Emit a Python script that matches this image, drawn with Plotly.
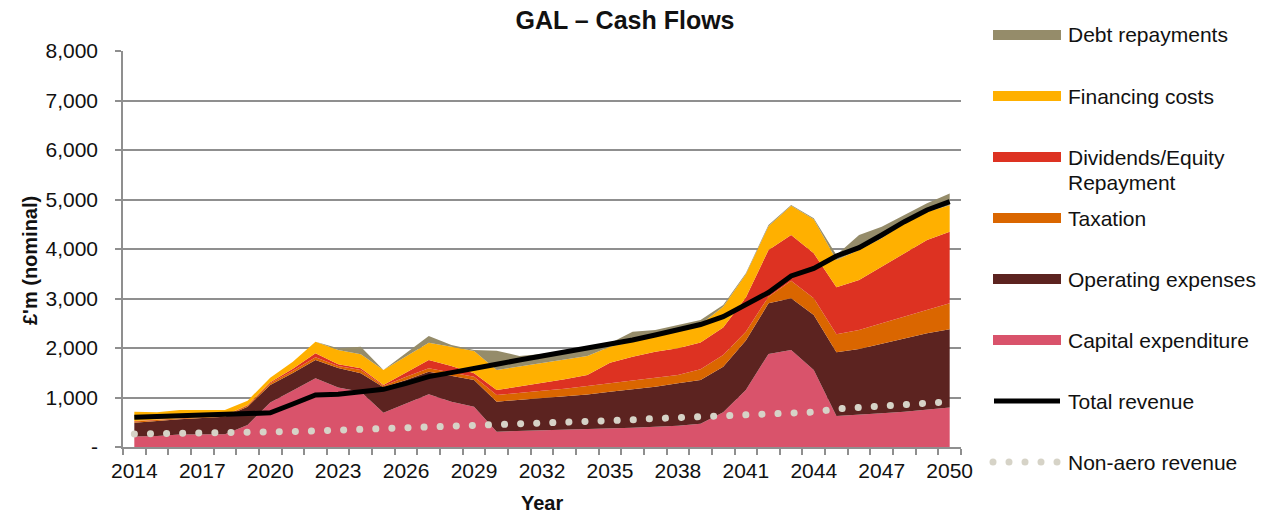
import plotly.graph_objects as go

# data (GBP m, nominal)
years = list(range(2014, 2051))

capex = [210, 222, 255, 263, 260, 444, 900, 1140, 1390, 1200, 1118, 694, 882, 1064, 916, 815,
         310, 323, 330, 343, 357, 370, 390, 411, 431, 470, 700, 1152, 1879, 1960, 1556, 626,
         646, 680, 714, 761, 800]
opex = [281, 310, 304, 323, 353, 371, 353, 355, 368, 396, 370, 511, 471, 458, 525, 538,
        606, 627, 653, 674, 703, 748, 775, 808, 855, 883, 923, 998, 1023, 1043, 1111, 1286,
        1334, 1401, 1481, 1535, 1577]
taxation = [25, 20, 18, 16, 17, 25, 37, 45, 53, 40, 68, 27, 68, 67, 67, 68, 134, 148, 155,
            161, 172, 168, 168, 168, 169, 220, 235, 180, 135, 357, 336, 364, 384, 418, 438,
            486, 525]
dividends = [9, 6, 5, 5, 6, 10, 20, 40, 81, 34, 33, 21, 81, 169, 128, 67, 102, 121, 148, 189,
             223, 418, 492, 539, 538, 537, 557, 690, 943, 923, 909, 950, 1010, 1144, 1279,
             1400, 1448]
financing = [188, 143, 165, 140, 114, 86, 90, 144, 236, 290, 283, 303, 323, 350, 391, 451,
             404, 404, 404, 404, 383, 323, 303, 303, 337, 370, 420, 470, 478, 592, 687, 552,
             606, 572, 607, 572, 535]
debt = [0, 0, 0, 0, 0, 0, 0, 0, 0, 33, 155, 0, 67, 134, 33, 21, 390, 217, 190, 169, 162, 67,
        202, 135, 135, 86, 34, 19, 27, 14, 21, 102, 303, 236, 168, 169, 235]
total_revenue = [600, 612, 633, 646, 667, 680, 690, 869, 1050, 1064, 1105, 1165, 1286, 1421,
                 1502, 1576, 1670, 1758, 1838, 1906, 1993, 2061, 2162, 2263, 2364, 2475, 2633,
                 2869, 3121, 3455, 3609, 3859, 4027, 4283, 4552, 4788, 4956]
non_aero = [263, 266, 270, 276, 282, 290, 300, 312, 325, 340, 350, 363, 377, 390, 400, 415,
            438, 455, 470, 495, 512, 530, 550, 575, 595, 615, 630, 641, 655, 680, 705, 770,
            798, 825, 852, 893, 915]

x_tickvals = list(range(2014, 2051, 3))
y_tickvals = [0, 1000, 2000, 3000, 4000, 5000, 6000, 7000, 8000]
y_ticktext = ["-", "1,000", "2,000", "3,000", "4,000", "5,000", "6,000", "7,000", "8,000"]

FONT = "Liberation Sans, Arial, sans-serif"
GRID = "#8f8f8f"

# stacked from the bottom up
stack = [
    ("Capital expenditure", capex, "#d9536b"),
    ("Operating expenses", opex, "#5c2320"),
    ("Taxation", taxation, "#da6600"),
    ("Dividends/Equity<br>Repayment", dividends, "#dd3222"),
    ("Financing costs", financing, "#ffb000"),
    ("Debt repayments", debt, "#958c6a"),
]
colors = {name: c for name, _, c in stack}
REV_COLOR = "black"
NONAERO_COLOR = "#d6d3c7"

fig = go.Figure()
for name, vals, col in stack:
    fig.add_trace(go.Scatter(x=years, y=vals, name=name, mode="lines", stackgroup="costs",
                             line=dict(width=0, color=col), fillcolor=col))

fig.add_trace(go.Scatter(x=years, y=total_revenue, name="Total revenue", mode="lines",
                         line=dict(color=REV_COLOR, width=5)))
fig.add_trace(go.Scatter(x=years, y=non_aero, name="Non-aero revenue", mode="lines",
                         line=dict(color=NONAERO_COLOR, width=7, dash="7px,9px")))

# plot area in pixels
W, H = 1271, 516
L, R, T, B = 123, 961, 51, 447


def px(x):
    return (x - L) / (R - L)


def py(y):
    return (B - y) / (B - T)


# manual legend, laid out like the original
legend_rows = [
    ("Debt repayments", 35, "bar"),
    ("Financing costs", 96, "bar"),
    ("Dividends/Equity<br>Repayment", 157, "bar"),
    ("Taxation", 218, "bar"),
    ("Operating expenses", 279, "bar"),
    ("Capital expenditure", 340, "bar"),
    ("Total revenue", 401, "line"),
    ("Non-aero revenue", 462, "dots"),
]
shapes = []
annotations = []
for label, yc, kind in legend_rows:
    if kind == "bar":
        shapes.append(dict(type="line", xref="paper", yref="paper", x0=px(993), x1=px(1061),
                           y0=py(yc), y1=py(yc), line=dict(color=colors[label], width=10)))
    elif kind == "line":
        shapes.append(dict(type="line", xref="paper", yref="paper", x0=px(994), x1=px(1060),
                           y0=py(yc), y1=py(yc), line=dict(color=REV_COLOR, width=5)))
    else:
        for cx in [993, 1009, 1025, 1041, 1057]:
            shapes.append(dict(type="circle", xref="paper", yref="paper",
                               x0=px(cx - 3.5), x1=px(cx + 3.5), y0=py(yc + 3.5), y1=py(yc - 3.5),
                               fillcolor=NONAERO_COLOR, line=dict(width=0)))
    lines = label.split("<br>")
    for k, txt in enumerate(lines):
        annotations.append(dict(text=txt, xref="paper", yref="paper", x=px(1066), y=py(yc + 25 * k),
                                xanchor="left", yanchor="middle", showarrow=False,
                                font=dict(family=FONT, size=21, color="#111111")))

# axis titles
annotations.append(dict(text="<b>£'m (nominal)</b>", xref="paper", yref="paper",
                        x=px(30), y=py(261), xanchor="center", yanchor="middle", textangle=-90,
                        showarrow=False, font=dict(family=FONT, size=20, color="#111111")))
annotations.append(dict(text="<b>Year</b>", xref="paper", yref="paper",
                        x=px(542), y=py(503), xanchor="center", yanchor="middle",
                        showarrow=False, font=dict(family=FONT, size=20, color="#111111")))

boundaries = [y - 0.5 for y in years] + [years[-1] + 0.5]

fig.update_layout(
    width=W, height=H,
    margin=dict(l=L, r=W - R, t=T, b=H - B),
    paper_bgcolor="white", plot_bgcolor="white",
    showlegend=False,
    title=dict(text="<b>GAL – Cash Flows</b>", x=625 / W, y=1 - 20 / H, xanchor="center",
               yanchor="middle", font=dict(family=FONT, size=25, color="#111111")),
    font=dict(family=FONT, size=21, color="#111111"),
    shapes=shapes, annotations=annotations,
    xaxis=dict(range=[2013.5, 2050.5], tickmode="array", tickvals=x_tickvals,
               ticks="", showgrid=False, zeroline=False, showline=True, linecolor=GRID,
               linewidth=1.5, ticklabelstandoff=4,
               minor=dict(tickmode="array", tickvals=boundaries, ticks="outside", ticklen=6,
                          tickcolor=GRID, tickwidth=1.5, showgrid=False),
               tickfont=dict(family=FONT, size=21, color="#111111")),
    yaxis=dict(range=[0, 8000], tickmode="array", tickvals=y_tickvals, ticktext=y_ticktext,
               ticks="outside", ticklen=6, tickcolor=GRID, tickwidth=1.5,
               showgrid=True, gridcolor=GRID, gridwidth=1.5, zeroline=False,
               showline=True, linecolor=GRID, linewidth=1.5, ticklabelstandoff=13,
               tickfont=dict(family=FONT, size=21, color="#111111")),
)

# drop the page margin, and round the dashes of the non-aero line into dots
post_js = """
document.body.style.margin = '0';
document.querySelectorAll('.scatterlayer .js-line').forEach(function(p){
  var d = p.style.strokeDasharray;
  if (d && d !== 'none') { p.style.strokeLinecap = 'round'; p.style.strokeDasharray = '0.1px,16px'; }
});
"""

fig.write_html("out.html", post_script=post_js, config={"displayModeBar": False})
